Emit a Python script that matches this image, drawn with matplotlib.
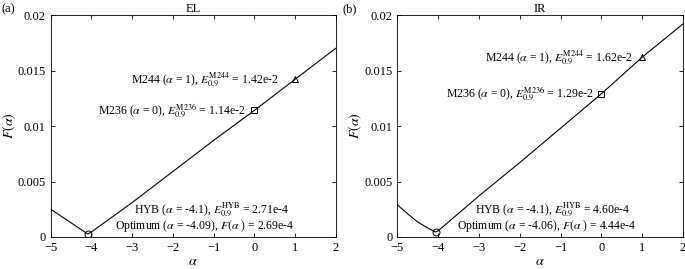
import matplotlib.pyplot as plt
import numpy as np

plt.rcParams['font.family'] = ['Liberation Serif', 'DejaVu Serif']
plt.rcParams['mathtext.fontset'] = 'stix'

# EL panel
alpha_el = [-5, -4.5, -4.09, -4, -3, -2, -1, 0, 1, 2]
f_el = [0.0025, 0.00128, 0.000269, 0.00045, 0.0031, 0.0059, 0.0087, 0.0114, 0.0142, 0.0170]
el_m236 = (0, 0.0114)
el_m244 = (1, 0.0142)
el_opt = (-4.09, 0.000269)

# IR panel
alpha_ir = [-5, -4.75, -4.5, -4.25, -4.06, -4, -3, -2, -1, 0, 1, 2]
f_ir = [0.0029, 0.0021, 0.00135, 0.0008, 0.000444, 0.00055, 0.0037, 0.0067, 0.0098, 0.0129, 0.0162, 0.0192]
ir_m236 = (0, 0.0129)
ir_m244 = (1, 0.0162)
ir_opt = (-4.06, 0.000444)

fig = plt.figure(figsize=(6.85, 2.69), dpi=100)
ax1 = fig.add_axes([0.074, 0.119, 0.416, 0.825])
ax2 = fig.add_axes([0.580, 0.119, 0.417, 0.825])

fs = 9


def draw(ax, a, f, m236, m244, opt, title, t244, t236, thyb, topt, pos):
    ax.plot(a, f, 'k-', lw=0.8)
    ax.plot(*m244, marker='^', mfc='none', mec='k', ms=5, mew=0.7)
    ax.plot(*m236, marker='s', mfc='none', mec='k', ms=4.5, mew=0.7)
    ax.plot(*opt, marker='o', mfc='none', mec='k', ms=5, mew=0.7)
    ax.set_xlim(-5, 2)
    ax.set_ylim(0, 0.02)
    ax.set_xticks(np.arange(-5, 3, 1))
    ax.set_yticks([0, 0.005, 0.01, 0.015, 0.02])
    ax.set_yticklabels(['0', '0.005', '0.01', '0.015', '0.02'])
    ax.tick_params(direction='in', top=True, right=True, labelsize=fs, length=3, width=0.6)
    for s in ax.spines.values():
        s.set_linewidth(0.6)
    ax.set_xlabel(r'$\alpha$', fontsize=fs + 1, labelpad=1)
    ax.set_ylabel(r'$F(\alpha)$', fontsize=fs + 1, labelpad=0)
    ax.set_title(title, fontsize=fs, pad=2)
    ax.text(pos[0], m244[1], t244, fontsize=fs - 0.5, ha='right', va='center')
    ax.text(pos[1], m236[1], t236, fontsize=fs - 0.5, ha='right', va='center')
    ax.text(pos[2], 0.0025, thyb, fontsize=fs - 0.5, ha='center', va='center')
    ax.text(pos[3], 0.00095, topt, fontsize=fs - 0.5, ha='center', va='center')


draw(ax1, alpha_el, f_el, el_m236, el_m244, el_opt, 'EL',
     r'M244 ($\alpha$ = 1), $E_{0.9}^{\mathrm{M244}}$ = 1.42e-2',
     r'M236 ($\alpha$ = 0), $E_{0.9}^{\mathrm{M236}}$ = 1.14e-2',
     r'HYB ($\alpha$ = -4.1), $E_{0.9}^{\mathrm{HYB}}$ = 2.71e-4',
     r'Optimum ($\alpha$ = -4.09), $F(\alpha$ ) = 2.69e-4',
     (0.6, -0.22, -1.05, -1.22))
draw(ax2, alpha_ir, f_ir, ir_m236, ir_m244, ir_opt, 'IR',
     r'M244 ($\alpha$ = 1), $E_{0.9}^{\mathrm{M244}}$ = 1.62e-2',
     r'M236 ($\alpha$ = 0), $E_{0.9}^{\mathrm{M236}}$ = 1.29e-2',
     r'HYB ($\alpha$ = -4.1), $E_{0.9}^{\mathrm{HYB}}$ = 4.60e-4',
     r'Optimum ($\alpha$ = -4.06), $F(\alpha$ ) = 4.44e-4',
     (0.75, -0.2, -1.2, -1.35))

fig.text(0.002, 0.965, '(a)', fontsize=fs, va='center')
fig.text(0.500, 0.965, '(b)', fontsize=fs, va='center')

plt.savefig('out.png', dpi=100)
